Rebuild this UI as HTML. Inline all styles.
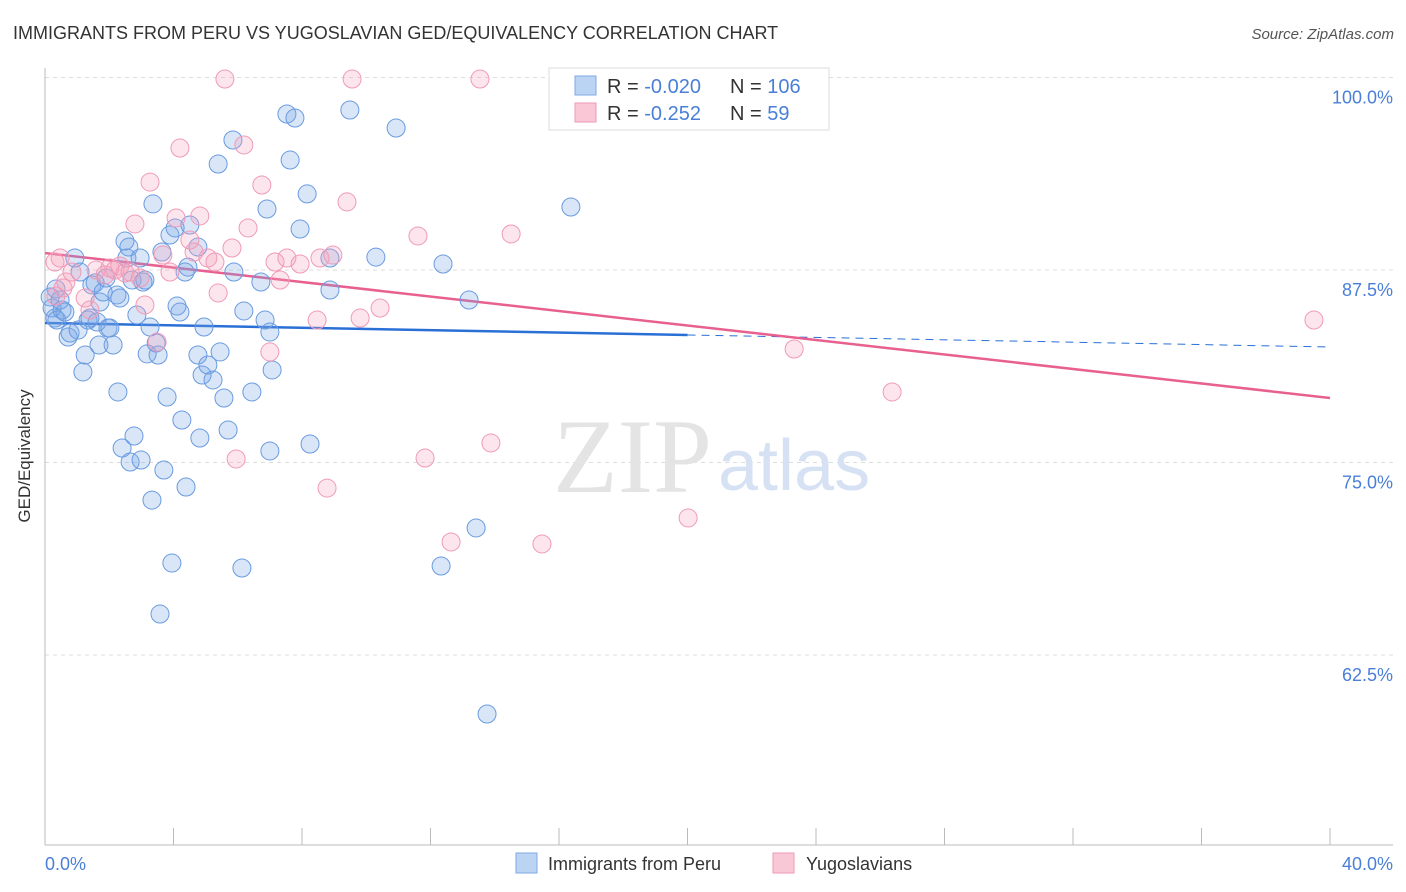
<!DOCTYPE html>
<html><head><meta charset="utf-8"><style>
body{margin:0;background:#fff;font-family:"Liberation Sans",sans-serif;}
svg{display:block}
</style></head><body>
<svg id="chart" width="1406" height="892" viewBox="0 0 1406 892">
<text x="13" y="39" font-size="18" fill="#333">IMMIGRANTS FROM PERU VS YUGOSLAVIAN GED/EQUIVALENCY CORRELATION CHART</text>
<text x="1394" y="39" font-size="15" fill="#555" font-style="italic" text-anchor="end">Source: ZipAtlas.com</text>
<g id="grid"></g>
<g><text x="553" y="492" font-family="Liberation Serif,serif" font-size="106" fill="#e4e4e4">ZIP</text><text x="718" y="490" font-size="72" fill="#d6e2f4">atlas</text></g>
<g id="axes"></g>
<g id="lines"></g>
<g id="points"></g>
<text x="30" y="456" font-size="17" fill="#333" text-anchor="middle" transform="rotate(-90 30 456)">GED/Equivalency</text>
<text x="45" y="870" font-size="18" fill="#4a7fd8">0.0%</text>
<text x="1393" y="870" font-size="18" fill="#4a7fd8" text-anchor="end">40.0%</text>
<g>
<rect x="549" y="68" width="280" height="62" fill="#fff" stroke="#ddd"/>
<rect x="575" y="76" width="21" height="19" fill="#bcd4f4" stroke="#7fa8e4"/>
<rect x="575" y="103" width="21" height="19" fill="#f9c7d6" stroke="#ef9ab5"/>
<text x="607" y="93" font-size="20" fill="#333">R = <tspan fill="#4a7fd8">-0.020</tspan></text>
<text x="730" y="93" font-size="20" fill="#333">N = <tspan fill="#4a7fd8">106</tspan></text>
<text x="607" y="120" font-size="20" fill="#333">R = <tspan fill="#4a7fd8"> -0.252</tspan></text>
<text x="730" y="120" font-size="20" fill="#333">N = <tspan fill="#4a7fd8">  59</tspan></text>
</g>
<g>
<rect x="516" y="853" width="21" height="20" fill="#bcd4f4" stroke="#7fa8e4"/>
<text x="548" y="870" font-size="18" fill="#333">Immigrants from Peru</text>
<rect x="773" y="853" width="21" height="20" fill="#f9c7d6" stroke="#ef9ab5"/>
<text x="806" y="870" font-size="18" fill="#333">Yugoslavians</text>
</g>
</svg>
<script>
const yTicks=[100,87.5,75,62.5];
const yTickLabels=["100.0%","87.5%","75.0%","62.5%"];
const xTicks=[0,4,8,12,16,20,24,28,32,36,40];
const blueX=[.16,.22,.31,.37,.47,.53,.62,.72,.78,.93,1.03,1.09,1.18,1.25,1.34,1.40,1.46,1.56,1.62,1.68,1.71,1.81,1.90,1.96,2.02,2.12,2.24,2.27,2.33,2.40,2.49,2.55,2.61,2.65,2.71,2.77,2.86,2.96,2.99,3.05,3.11,3.18,3.27,3.33,3.36,3.46,3.52,3.58,3.64,3.70,3.80,3.89,3.95,4.05,4.11,4.20,4.26,4.36,4.39,4.45,4.51,4.76,4.76,4.82,4.89,4.95,5.07,5.23,5.39,5.45,5.57,5.70,5.85,5.88,6.13,6.19,6.44,6.72,6.85,6.91,7.00,7.00,7.07,7.53,7.63,7.78,8.16,7.94,8.25,8.87,8.87,9.49,10.30,10.93,12.33,12.39,13.20,13.42,13.76,16.37,.34];
const blueY=[85.75,85.03,84.38,84.25,85.55,84.90,84.77,83.15,83.41,88.28,83.60,87.37,80.88,81.98,84.25,84.38,86.53,86.66,84.12,82.63,85.42,86.07,86.98,83.73,83.73,82.63,85.88,79.58,85.68,75.94,89.38,88.28,88.99,75.03,86.85,76.72,84.58,88.28,75.16,86.72,86.85,82.05,83.80,72.56,91.79,82.76,81.98,65.16,88.67,74.51,79.25,89.77,68.47,90.23,85.16,84.77,77.76,87.37,73.41,87.69,90.42,88.99,81.98,76.59,80.68,83.80,81.33,80.36,94.38,82.18,79.19,77.11,95.94,87.37,68.15,84.84,79.58,86.72,84.25,91.46,75.75,83.47,81.01,97.63,94.64,97.37,92.44,90.16,76.20,86.20,88.28,97.89,88.34,96.72,68.28,87.89,85.55,70.75,58.67,91.59,86.27];
const pinkX=[.31,.34,.47,.56,.65,.84,1.25,1.40,1.59,1.87,2.02,2.18,2.33,2.49,2.65,2.80,2.96,3.11,3.27,3.49,3.67,3.89,4.08,4.20,4.51,4.64,4.82,5.07,5.29,5.39,5.60,5.82,5.95,6.19,6.32,6.75,7.00,7.16,7.32,7.53,7.94,8.47,8.56,8.78,8.96,9.40,9.56,9.81,10.43,11.61,11.83,12.64,13.54,13.88,14.51,15.47,20.02,23.32,26.37,39.50];
const pinkY=[88.02,85.81,88.28,86.33,86.72,87.37,85.68,84.90,87.50,87.18,87.63,87.50,87.76,87.31,87.37,90.49,86.98,85.23,93.21,82.82,88.47,87.37,90.88,95.42,89.45,88.67,91.01,88.28,88.02,86.01,99.90,88.93,75.23,95.62,90.23,93.02,82.18,88.02,86.85,88.28,87.89,84.25,88.28,73.34,88.47,91.92,99.90,84.38,85.03,89.71,75.29,69.84,99.90,76.27,89.84,69.71,71.40,82.37,79.58,84.25];
const blueTrend=[84.06,82.50];
const blueSolidEnd=20;
const pinkTrend=[88.60,79.19];

const NS="http://www.w3.org/2000/svg";
const X0=45,X1=1330,Y100=77.5,PX_PER=192.5/12.5;
const sx=v=>X0+(v/40)*(X1-X0);
const sy=v=>Y100+(100-v)*PX_PER;
function mk(tag,attrs,parent){const e=document.createElementNS(NS,tag);for(const k in attrs)e.setAttribute(k,attrs[k]);parent.appendChild(e);return e;}
const grid=document.getElementById('grid'),axes=document.getElementById('axes'),lines=document.getElementById('lines'),pts=document.getElementById('points');
yTicks.forEach((t,i)=>{
  const l=mk('line',{x1:X0,x2:1393,y1:sy(t),y2:sy(t),stroke:'#ddd','stroke-dasharray':'4,4'},grid);
  
  
  const tx=mk('text',{x:1393,y:sy(t)+26,'font-size':18,fill:'#4a7fd8','text-anchor':'end'},grid);
  tx.textContent=yTickLabels[i];
  
  
});
const ya=mk('line',{x1:X0,x2:X0,y1:68,y2:845,stroke:'#bbb'},axes);


const xa=mk('line',{x1:X0,x2:1393,y1:845,y2:845,stroke:'#bbb'},axes);


xTicks.forEach(t=>{
  const l=mk('line',{x1:sx(t),x2:sx(t),y1:828,y2:845,stroke:'#bbb'},axes);
  
  
});
blueX.forEach((x,i)=>{
  const c=mk('circle',{cx:sx(x),cy:sy(blueY[i]),r:9,fill:'rgba(120,165,230,0.28)',stroke:'#6a9be0','stroke-width':1},pts);
  
  
});
pinkX.forEach((x,i)=>{
  const c=mk('circle',{cx:sx(x),cy:sy(pinkY[i]),r:9,fill:'rgba(245,160,185,0.28)',stroke:'#f09ab8','stroke-width':1},pts);
  
  
});
const bAt=x=>blueTrend[0]+(blueTrend[1]-blueTrend[0])*x/40;
const bl=mk('line',{x1:sx(0),y1:sy(bAt(0)),x2:sx(blueSolidEnd),y2:sy(bAt(blueSolidEnd)),stroke:'#2a6fd6','stroke-width':2.5},lines);


const bd=mk('line',{x1:sx(blueSolidEnd),y1:sy(bAt(blueSolidEnd)),x2:sx(40),y2:sy(bAt(40)),stroke:'#2a6fd6','stroke-width':1,'stroke-dasharray':'8,6'},lines);


const pl=mk('line',{x1:sx(0),y1:sy(pinkTrend[0]),x2:sx(40),y2:sy(pinkTrend[1]),stroke:'#e8608f','stroke-width':2.5},lines);


</script>
</body></html>
